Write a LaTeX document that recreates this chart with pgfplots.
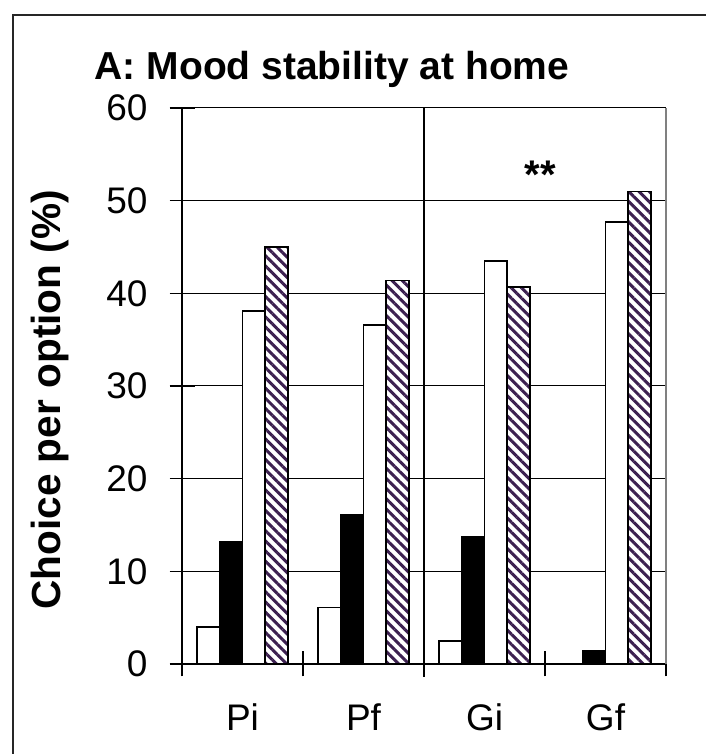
\documentclass[border=0pt]{standalone}
\usepackage{fontspec}
\setmainfont{Liberation Sans}
\usepackage{pgfplots}
\pgfplotsset{compat=1.18}
\usetikzlibrary{patterns.meta}
\definecolor{hatch}{RGB}{60,32,80}
\begin{document}
\begin{tikzpicture}
\path[use as bounding box] (0,0) rectangle (353pt,377pt);
\draw[line width=1.2pt, black!85] (6.5pt,0pt) -- (6.5pt,369.5pt) -- (353pt,369.5pt);
\begin{axis}[
  at={(91pt,45pt)}, anchor=south west,
  scale only axis, width=242pt, height=278pt,
  xmin=-0.5, xmax=3.5, ymin=0, ymax=60,
  ybar=0pt, bar width=11.35pt,
  axis lines=left, axis line style={-, line width=0.65pt},
  ytick={0,10,...,60},
  xtick={0,1,2,3}, xticklabels={Pi,Pf,Gi,Gf},
  minor xtick={-0.5,0.5,1.5,2.5,3.5},
  major x tick style={draw=none},
  tick align=center,
  major tick length=12.5pt, minor tick length=12.5pt,
  tick style={black, line width=0.65pt},
  ymajorgrids, grid style={black, line width=0.5pt},
  /pgf/number format/assume math mode=true,
  tick label style={font=\fontsize{18.5}{20}\selectfont},
  xticklabel style={yshift=-10pt},
  yticklabel style={xshift=-7.5pt},
  ylabel={Choice per option (\%)},
  every axis y label/.style={at={(axis description cs:-0.273,0.475)}, rotate=90, anchor=center, font=\bfseries\fontsize{20.3}{22}\selectfont},
  title={A: Mood stability at home},
  every axis title/.style={at={(axis description cs:0.31,1.052)}, anchor=base, font=\bfseries\fontsize{19.5}{22}\selectfont},
  clip=false,
]
\addplot[fill=white, draw=black, line width=0.75pt] coordinates {(0,4.0) (1,6.1) (2,2.5) (3,0)};
\addplot[fill=black, draw=black, line width=0.75pt] coordinates {(0,13.2) (1,16.1) (2,13.7) (3,1.4)};
\addplot[fill=white, draw=black, line width=0.75pt] coordinates {(0,38.1) (1,36.6) (2,43.5) (3,47.7)};
\addplot[fill=white, draw=black, line width=0.75pt, postaction={pattern color=hatch, pattern={Lines[angle=-45,distance=3.6pt,line width=1.5pt]}}] coordinates {(0,45.0) (1,41.4) (2,40.7) (3,51.0)};
\draw[line width=1pt] (axis cs:1.5,-1.4) -- (axis cs:1.5,60);
\draw[gray, line width=0.65pt] (axis cs:3.5,0) -- (axis cs:3.5,60);
\node[anchor=base, font=\bfseries\fontsize{20}{22}\selectfont] at (axis cs:2.46,51.3) {**};
\end{axis}
\end{tikzpicture}
\end{document}
